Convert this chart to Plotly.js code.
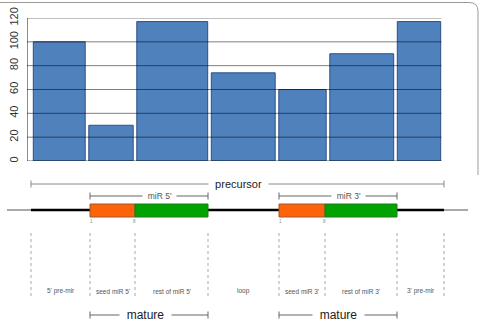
<!DOCTYPE html>
<html>
<head>
<meta charset="utf-8">
<script src="https://cdn.plot.ly/plotly-3.0.1.min.js"></script>
<style>
  html, body { margin: 0; padding: 0; background: #fff; }
  #chart { width: 481px; height: 323px; }
</style>
</head>
<body>
<div id="chart"></div>
<script>
// Read coverage along the pre-miRNA hairpin, one bar per region.
const regionNames = ["5' pre-mir", "seed miR 5'", "rest of miR 5'", "loop",
                     "seed miR 3'", "rest of miR 3'", "3' pre-mir"];
const regionKinds = ["arm", "seed", "rest", "loop", "seed", "rest", "arm"];
const coverage = [100, 30, 117, 74, 60, 90, 117];
const yTicks = [0, 20, 40, 60, 80, 100, 120];

// Positions along the precursor (schematic scale shared by bars and diagram).
const barEdges = [31.5, 87, 135, 209.5, 277, 328, 395.5, 442.5];
const regionEdges = [31, 90, 135, 208, 279, 325, 397, 444];
const flankEnds = [7, 468];
const seedMarks = ["1", "8"];

const W = 481, H = 323;
const BAR_GAP = 3.6;

// Bars: centre and width taken from the region edges.
const barX = [], barW = [];
for (let i = 0; i < coverage.length; i++) {
  barX.push((barEdges[i] + barEdges[i + 1]) / 2);
  barW.push(barEdges[i + 1] - barEdges[i] - BAR_GAP);
}

const traces = [{
  type: 'bar',
  x: barX,
  y: coverage,
  width: barW,
  xaxis: 'x', yaxis: 'y',
  marker: { color: '#4F81BD', line: { color: '#2d5185', width: 1 } },
  hoverinfo: 'skip',
  showlegend: false
}];

const shapes = [];
const annotations = [];

// Horizontal grid lines drawn over the bars.
yTicks.forEach(v => {
  shapes.push({
    type: 'line', xref: 'x', yref: 'y', layer: 'above',
    x0: 27, x1: barEdges[barEdges.length - 1] - 1, y0: v, y1: v,
    line: { color: v === 0 ? 'rgba(0,0,0,0.6)' : 'rgba(0,0,0,0.5)', width: 1 }
  });
});

// Frame around the figure (top edge and rounded right corner).
function px(x, y) { return (x / W).toFixed(5) + ',' + (1 - y / H).toFixed(5); }
shapes.push({
  type: 'path', xref: 'paper', yref: 'paper', layer: 'above',
  path: 'M ' + px(0, 2.5) + ' L ' + px(469, 2.5) + ' Q ' + px(478, 2.5) + ' ' +
        px(478, 11) + ' L ' + px(478, 175),
  line: { color: '#9a9a9a', width: 1 }
});

// Bracket with end ticks and a centred caption that interrupts the line.
function bracket(xa, xb, y, label, opts) {
  shapes.push({ type: 'line', xref: 'x', yref: 'y2', x0: xa, x1: xb, y0: y, y1: y,
                line: { color: opts.lineColor, width: 1 } });
  [xa, xb].forEach(xx => shapes.push({
    type: 'line', xref: 'x', yref: 'y2', x0: xx, x1: xx, y0: y - 3.5, y1: y + 3.5,
    line: { color: opts.lineColor, width: 1 }
  }));
  annotations.push({
    xref: 'x', yref: 'y2', x: (xa + xb) / 2 + opts.shift, y: y,
    text: opts.pad + label + opts.pad, showarrow: false, bgcolor: '#ffffff',
    borderpad: 0, xanchor: 'center', yanchor: 'middle',
    font: { family: 'Liberation Sans, Arial, sans-serif', size: opts.size, color: opts.color }
  });
}

const nb = '\u00a0';
const first = regionEdges[0], last = regionEdges[regionEdges.length - 1];

// Precursor span.
bracket(first, last, 184, 'precursor',
        { lineColor: '#8a8a8a', size: 11, color: '#222', shift: 1, pad: nb + nb });

// Mature arms: seed + rest.
const arms = [];
regionKinds.forEach((k, i) => { if (k === 'seed') arms.push([regionEdges[i], regionEdges[i + 2]]); });
bracket(arms[0][0], arms[0][1], 196, "miR 5'",
        { lineColor: '#666', size: 8.5, color: '#555', shift: 10, pad: nb + nb });
bracket(arms[1][0], arms[1][1], 196, "miR 3'",
        { lineColor: '#666', size: 8.5, color: '#555', shift: 10, pad: nb + nb });
arms.forEach((a, j) => bracket(a[0], a[1], 315, 'mature',
        { lineColor: '#666', size: 12, color: '#222', shift: j === 0 ? -4 : 0, pad: nb + nb }));

// Backbone: thin flanks, thick precursor.
shapes.push({ type: 'line', xref: 'x', yref: 'y2', x0: flankEnds[0], x1: first, y0: 210, y1: 210,
              line: { color: '#555', width: 1 } });
shapes.push({ type: 'line', xref: 'x', yref: 'y2', x0: last, x1: flankEnds[1], y0: 210, y1: 210,
              line: { color: '#555', width: 1 } });
shapes.push({ type: 'line', xref: 'x', yref: 'y2', x0: first, x1: last, y0: 210, y1: 210,
              line: { color: '#000', width: 2.5 } });

// Seed (orange) and rest-of-miR (green) boxes.
regionKinds.forEach((k, i) => {
  if (k !== 'seed' && k !== 'rest') return;
  shapes.push({
    type: 'rect', xref: 'x', yref: 'y2',
    x0: regionEdges[i], x1: regionEdges[i + 1], y0: 204, y1: 217,
    fillcolor: k === 'seed' ? '#FF6309' : '#00A300',
    line: { color: k === 'seed' ? '#9c5a2a' : '#1d7a1d', width: 1 }
  });
  if (k === 'seed') {
    [regionEdges[i] + 1, regionEdges[i + 1] - 1].forEach((xx, j) => annotations.push({
      xref: 'x', yref: 'y2', x: xx, y: 221, text: seedMarks[j], showarrow: false,
      xanchor: 'center', yanchor: 'middle',
      font: { family: 'Liberation Sans, Arial, sans-serif', size: 4.5, color: '#888' }
    }));
  }
});

// Dotted region dividers and region labels.
regionEdges.forEach(xx => shapes.push({
  type: 'line', xref: 'x', yref: 'y2', x0: xx, x1: xx, y0: 233, y1: 296,
  line: { color: '#a8a8a8', width: 1, dash: 'dot' }
}));
regionNames.forEach((name, i) => annotations.push({
  xref: 'x', yref: 'y2', x: (regionEdges[i] + regionEdges[i + 1]) / 2, y: 291,
  text: name, showarrow: false, xanchor: 'center', yanchor: 'middle',
  font: { family: 'Liberation Sans, Arial, sans-serif', size: 6.5, color: '#555' }
}));

const layout = {
  width: W, height: H,
  margin: { l: 0, r: 0, t: 0, b: 0, pad: 0 },
  paper_bgcolor: '#ffffff', plot_bgcolor: 'rgba(0,0,0,0)',
  showlegend: false,
  xaxis: { range: [0, W], domain: [0, 1], visible: false, fixedrange: true },
  yaxis: {
    domain: [1 - 161 / H, 1 - 18 / H], range: [0, 120],
    anchor: 'free', position: 27 / W,
    showgrid: false, zeroline: false, showline: true, linecolor: '#8c8c8c', linewidth: 1,
    tickvals: yTicks, ticktext: yTicks.map(String), tickangle: -90,
    ticks: 'outside', ticklen: 5, tickcolor: 'rgba(0,0,0,0)',
    tickfont: { family: 'Liberation Sans, Arial, sans-serif', size: 11, color: '#333' },
    fixedrange: true
  },
  yaxis2: {
    domain: [0, 1 - 161.5 / H], range: [H, 161.5], anchor: 'x',
    visible: false, fixedrange: true
  },
  shapes: shapes,
  annotations: annotations,
  bargap: 0
};

Plotly.newPlot('chart', traces, layout, { staticPlot: true, displayModeBar: false });
</script>
</body>
</html>
